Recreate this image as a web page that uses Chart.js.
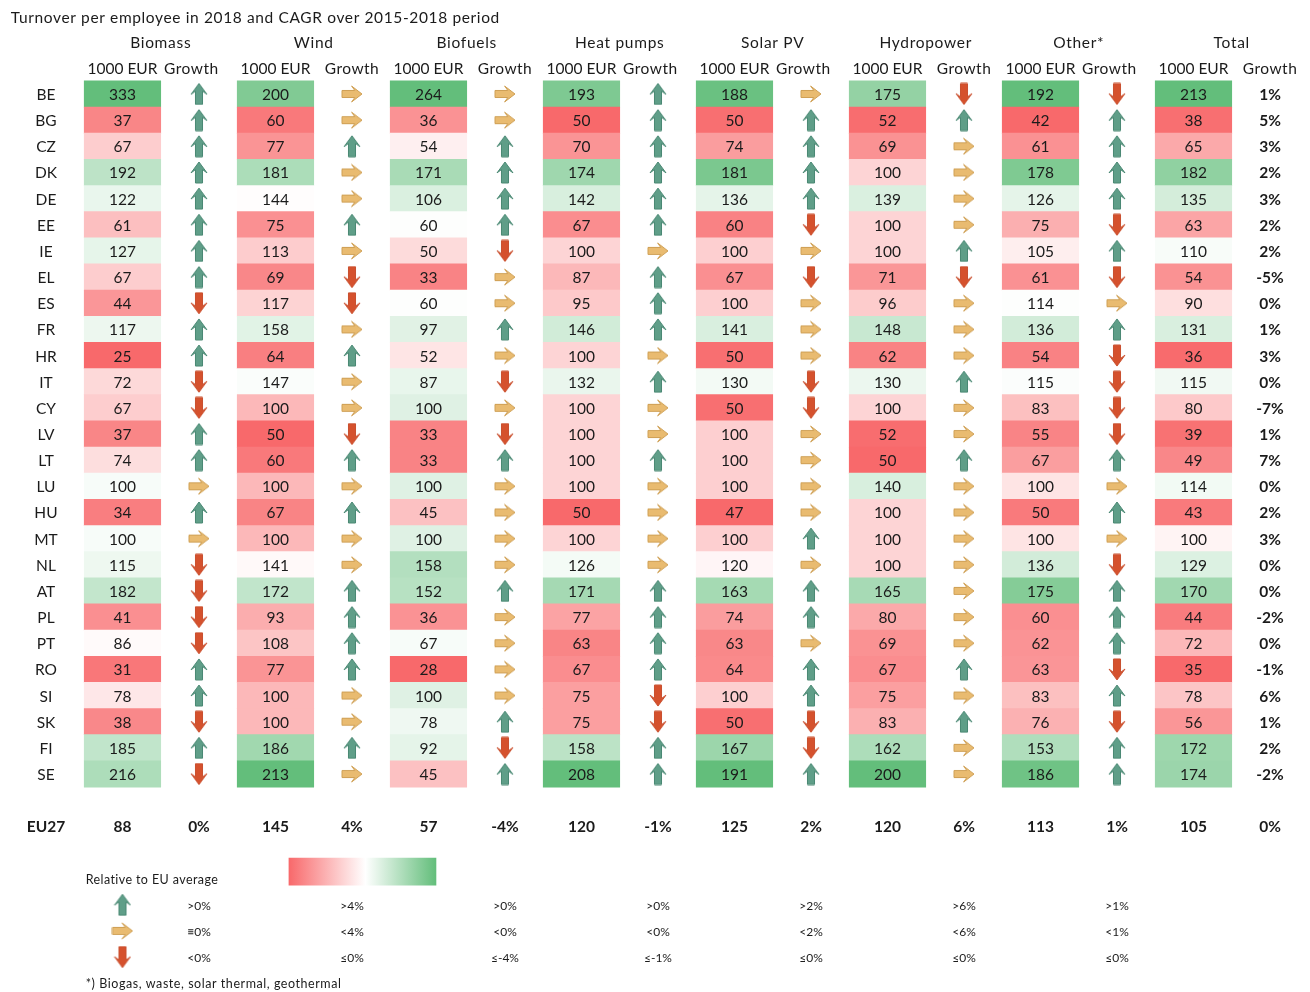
<!DOCTYPE html>
<html>
<head>
<meta charset="utf-8">
<title>Turnover per employee</title>
<script src="https://cdn.jsdelivr.net/npm/chart.js@4"></script>
<style>
  html, body { margin: 0; padding: 0; background: #fff; overflow: hidden; }
  canvas { display: block; }
</style>
</head>
<body>
<canvas id="sheet" width="1310" height="992"></canvas>
<script>
const countries = ['BE','BG','CZ','DK','DE','EE','IE','EL','ES','FR','HR','IT','CY','LV','LT','LU','HU','MT','NL','AT','PL','PT','RO','SI','SK','FI','SE'];
const technologies = ['Biomass','Wind','Biofuels','Heat pumps','Solar PV','Hydropower','Other*','Total'];

const biomass = [333,37,67,192,122,61,127,67,44,117,25,72,67,37,74,100,34,100,115,182,41,86,31,78,38,185,216];
const wind = [200,60,77,181,144,75,113,69,117,158,64,147,100,50,60,100,67,100,141,172,93,108,77,100,100,186,213];
const biofuels = [264,36,54,171,106,60,50,33,60,97,52,87,100,33,33,100,45,100,158,152,36,67,28,100,78,92,45];
const heatPumps = [193,50,70,174,142,67,100,87,95,146,100,132,100,100,100,100,50,100,126,171,77,63,67,75,75,158,208];
const solarPv = [188,50,74,181,136,60,100,67,100,141,50,130,50,100,100,100,47,100,120,163,74,63,64,100,50,167,191];
const hydropower = [175,52,69,100,139,100,100,71,96,148,62,130,100,52,50,140,100,100,100,165,80,69,67,75,83,162,200];
const other = [192,42,61,178,126,75,105,61,114,136,54,115,83,55,67,100,50,100,136,175,60,62,63,83,76,153,186];
const total = [213,38,65,182,135,63,110,54,90,131,36,115,80,39,49,114,43,100,129,170,44,72,35,78,56,172,174];
const totalGrowth = [1,5,3,2,3,2,2,-5,0,1,3,0,-7,1,7,0,2,3,0,0,-2,0,-1,6,1,2,-2];

// U = up, R = flat, D = down, one letter per country
const biomassTrend = 'UUUUUUUUDUUDDUURURDDDDUUDUD'.split('');
const windTrend = 'RRURRURDDRURRDURURRUUUURRUR'.split('');
const biofuelsTrend = 'RRUUUUDRRURDRDURRRRURRRRUDU'.split('');
const heatPumpsTrend = 'UUUUUURUUURURRURRRRUUUUDDUU'.split('');
const solarPvTrend = 'RUUUUDRDRRRDDRRRRURUURUUDDU'.split('');
const hydropowerTrend = 'DURRRRUDRRRURRURRRRRRRURURR'.split('');
const otherTrend = 'DUUUUDUDRUDDDDURURDUUUDUDUU'.split('');

const euValues = [88,145,57,120,125,120,113,105];
const euGrowth = [0,4,-4,-1,2,6,1,0];

const legendUp = ['>0%','>4%','>0%','>0%','>2%','>6%','>1%'];
const legendFlat = ['≡0%','<4%','<0%','<0%','<2%','<6%','<1%'];
const legendDown = ['<0%','≤0%','≤-4%','≤-1%','≤0%','≤0%','≤0%'];

const valueColumns = [biomass, wind, biofuels, heatPumps, solarPv, hydropower, other, total];
const trendColumns = [biomassTrend, windTrend, biofuelsTrend, heatPumpsTrend, solarPvTrend, hydropowerTrend, otherTrend];

// The sheet is a grid: x is the sub column, y the row (BE = 0)
const EU_ROW = 28, LEGEND_ROW = 30;
const RED = [248, 105, 107], WHITE = [255, 255, 255], GREEN = [99, 190, 123];
const TEXT = '#1b1b1b';

function mix(a, b, t) {
  return 'rgb(' + a.map((v, i) => Math.round(v + (b[i] - v) * t)).join(',') + ')';
}

// Three colour scale per column: min red, EU average white, max green
function cellColor(value, values, avg) {
  if (value >= avg) return mix(WHITE, GREEN, (value - avg) / (Math.max(...values) - avg));
  return mix(WHITE, RED, (avg - value) / (avg - Math.min(...values)));
}

// Arrow sprite, drawn pointing up and turned as needed
function makeArrow(angle, fill, stroke, w, h) {
  const c = document.createElement('canvas');
  const sideways = angle !== 0 && angle !== Math.PI;
  c.width = (sideways ? h : w) + 2;
  c.height = (sideways ? w : h) + 2;
  const g = c.getContext('2d');
  g.translate(c.width / 2, c.height / 2);
  g.rotate(angle);
  g.beginPath();
  g.moveTo(0, -h / 2);
  g.lineTo(w / 2, -h / 2 + h * 0.52);
  g.lineTo(w * 0.22, -h / 2 + h * 0.36);
  g.lineTo(w * 0.22, h / 2);
  g.lineTo(-w * 0.22, h / 2);
  g.lineTo(-w * 0.22, -h / 2 + h * 0.36);
  g.lineTo(-w / 2, -h / 2 + h * 0.52);
  g.closePath();
  g.fillStyle = fill;
  g.fill();
  g.strokeStyle = stroke;
  g.lineWidth = 1;
  g.stroke();
  return c;
}

const arrows = {
  U: makeArrow(0, '#5f9e88', '#4a8873', 16, 21),
  R: makeArrow(Math.PI / 2, '#e9bb70', '#cfa055', 16, 20),
  D: makeArrow(Math.PI, '#d5512d', '#c9502f', 16, 21)
};

// Build the datasets from the arrays above
const cells = [], cellColors = [], marks = [], markStyles = [];
valueColumns.forEach((values, c) => {
  values.forEach((v, r) => {
    cells.push({ x: [c * 2 - 0.5, c * 2 + 0.5], y: r });
    cellColors.push(cellColor(v, values, euValues[c]));
  });
});
trendColumns.forEach((trend, c) => {
  trend.forEach((t, r) => {
    marks.push({ x: c * 2 + 1, y: r });
    markStyles.push(arrows[t]);
  });
});
['U', 'R', 'D'].forEach((t, i) => {
  marks.push({ x: 0, y: LEGEND_ROW + 1 + i });
  markStyles.push(arrows[t]);
});

// Labels that are not marks
const growthHeadX = [0.9, 3, 5, 6.9, 8.9, 11, 12.9, 15];
const textLayer = {
  id: 'textLayer',
  afterDatasetsDraw(chart) {
    const { ctx, scales: { x, y } } = chart;
    const put = (str, col, row, font, align, spacing) => {
      ctx.font = font;
      ctx.textAlign = align || 'center';
      ctx.letterSpacing = (spacing || 0) + 'px';
      ctx.fillText(str, x.getPixelForValue(col), y.getPixelForValue(row) + 1);
    };
    ctx.save();
    ctx.fillStyle = TEXT;
    ctx.textBaseline = 'middle';
    const body = '15.5px Lato', bold = 'bold 15.5px Lato', small = '12px Lato', note = '12.5px Lato';

    put('Turnover per employee in 2018 and CAGR over 2015-2018 period', -1.46, -2.95, body, 'left', 0.63);
    technologies.forEach((name, c) => {
      put(name, c * 2 + 0.5, -2, body, 'center', 0.7);
      put('1000 EUR', c * 2, -1, body);
      put('Growth', growthHeadX[c], -1, body, 'center', 0.5);
    });
    countries.forEach((name, r) => put(name, -1, r, body));
    put('EU27', -1, EU_ROW, bold);
    valueColumns.forEach((values, c) => {
      values.forEach((v, r) => put(String(v), c * 2, r, body));
      put(String(euValues[c]), c * 2, EU_ROW, bold);
      put(euGrowth[c] + '%', c * 2 + 1, EU_ROW, bold);
    });
    totalGrowth.forEach((v, r) => put(v + '%', 15, r, bold));

    put('Relative to EU average', -0.48, LEGEND_ROW, note, 'left', 0.4);
    [legendUp, legendFlat, legendDown].forEach((list, i) => {
      list.forEach((str, c) => put(str, c * 2 + 1, LEGEND_ROW + 1 + i, small));
    });
    put('*) Biogas, waste, solar thermal, geothermal', -0.48, LEGEND_ROW + 4, note, 'left', 0.55);
    ctx.restore();
  }
};

new Chart(document.getElementById('sheet').getContext('2d'), {
  type: 'bar',
  data: {
    datasets: [
      {
        type: 'bar',
        data: cells,
        backgroundColor: cellColors,
        borderWidth: 0,
        grouped: false,
        barThickness: 26.3
      },
      {
        // colour scale of the legend
        type: 'bar',
        data: [{ x: [2.176, 4.098], y: 29.73 }],
        backgroundColor(ctx) {
          const sx = ctx.chart.scales.x;
          const from = sx ? sx.getPixelForValue(2.176) : NaN;
          const to = sx ? sx.getPixelForValue(4.098) : NaN;
          if (!isFinite(from) || !isFinite(to)) return '#fff';
          const g = ctx.chart.ctx.createLinearGradient(from, 0, to, 0);
          g.addColorStop(0, mix(RED, RED, 0));
          g.addColorStop(0.52, mix(WHITE, WHITE, 0));
          g.addColorStop(1, mix(GREEN, GREEN, 0));
          return g;
        },
        borderWidth: 0,
        grouped: false,
        barThickness: 27
      },
      {
        type: 'scatter',
        data: marks,
        pointStyle: markStyles,
        pointRadius: 8
      }
    ]
  },
  options: {
    indexAxis: 'y',
    responsive: false,
    animation: false,
    events: [],
    layout: { padding: 0, autoPadding: false },
    plugins: { legend: { display: false }, tooltip: { enabled: false }, title: { display: false } },
    scales: {
      x: { type: 'linear', display: false, min: -1.601, max: 15.523 },
      // bar charts turn offset on for the index axis, it would shrink the rows
      y: { type: 'linear', display: false, reverse: true, offset: false, min: -3.594, max: 34.335 }
    }
  },
  plugins: [textLayer]
});
</script>
</body>
</html>
